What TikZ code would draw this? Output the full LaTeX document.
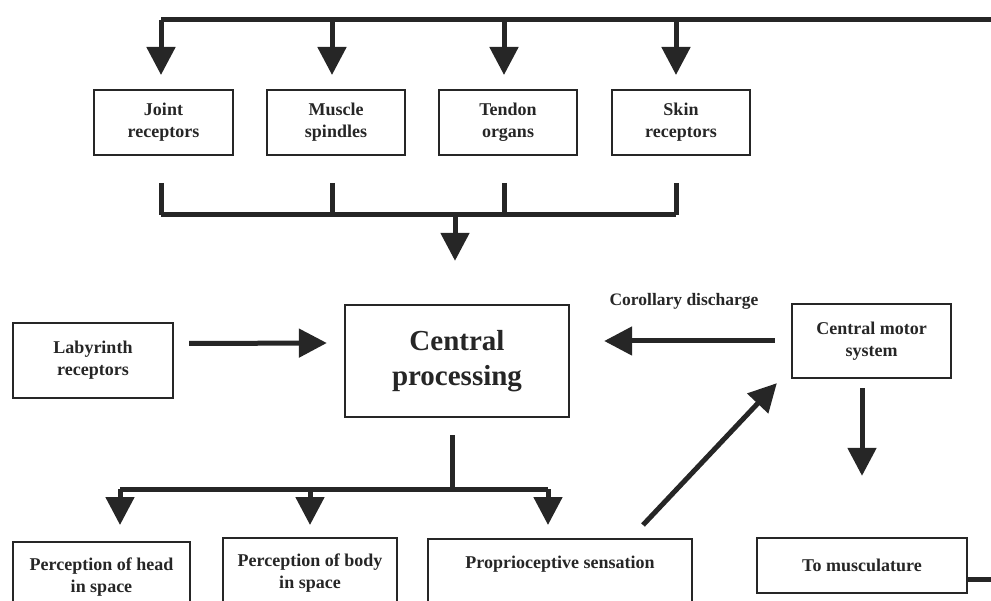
\documentclass[tikz,border=0pt]{standalone}
\usepackage{fontspec}
\setmainfont{Liberation Serif}
\usetikzlibrary{arrows.meta}
\begin{document}
\begin{tikzpicture}[x=1pt,y=-1pt,
  box/.style={draw=black!85,line width=2.3pt,align=center,inner sep=2pt,
    font=\bfseries\fontsize{18}{22}\selectfont,text=black!85},
  conn/.style={line width=5pt,draw=black!85},
  arr/.style={conn,-{Triangle[width=28pt,length=28pt]}},
  lbl/.style={font=\bfseries\fontsize{17.5}{20}\selectfont,text=black!85}]
\useasboundingbox (0,0) rectangle (991,601);
\clip (0,0) rectangle (991,601);
% top row
\node[box,minimum width=139pt,minimum height=65pt] (joint) at (163.5,122.5) {Joint\\receptors};
\node[box,minimum width=138pt,minimum height=65pt] (muscle) at (336,122.5) {Muscle\\spindles};
\node[box,minimum width=138pt,minimum height=65pt] (tendon) at (508,122.5) {Tendon\\organs};
\node[box,minimum width=138pt,minimum height=65pt] (skin) at (681,122.5) {Skin\\receptors};
% top feedback line
\coordinate (topR) at (1000,20);
\coordinate (topL) at (161,20);
\draw[conn] (topR) -- (topL);
\foreach \n/\x in {joint/161,muscle/332,tendon/504,skin/676}{
  \draw[arr] (\x,20) -- (\x,75);
}
% bracket
\coordinate (brL) at (161,215);
\coordinate (brR) at (676,215);
\foreach \x in {161,332,504,676}{
  \draw[conn] (\x,183) -- (\x,215);
}
\draw[conn] (brL) -- (brR);
% central
\node[box,minimum width=224pt,minimum height=112pt,font=\bfseries\fontsize{29}{35}\selectfont] (central) at (457,361) {Central\\processing};
\draw[arr] (455,215) -- ([xshift=-2pt,yshift=43pt]central.north);
% labyrinth
\node[box,minimum width=160pt,minimum height=75pt] (lab) at (93,360.5) {Labyrinth\\receptors};
\draw[arr] ([xshift=15pt,yshift=17pt]lab.east) -- ([xshift=-17pt,yshift=18pt]central.west);
% central motor
\node[box,minimum width=159pt,minimum height=74pt] (cm) at (871.5,341) {Central motor\\system};
\draw[arr] ([xshift=-16pt]cm.west) -- ([xshift=34pt,yshift=20pt]central.east);
\node[lbl] (cd) at (684,301) {Corollary discharge};
% bottom row
\node[box,minimum width=177pt,minimum height=70pt] (head) at (101.5,577) {Perception of head\\in space};
\node[box,minimum width=174pt,minimum height=70pt] (body) at (310,573) {Perception of body\\in space};
\node[box,minimum width=264pt,anchor=north,inner ysep=0pt,text height=29pt,text depth=55pt] (prop) at (560,538) {Proprioceptive sensation};
\node[box,minimum width=210pt,minimum height=55pt] (musc) at (862,565.5) {To musculature};
% distribution from central
\coordinate (dv) at (452,489);
\draw[conn] ([xshift=-5pt,yshift=-17pt]central.south) -- (dv);
\coordinate (dL) at (120,489);
\coordinate (dR) at (548,489);
\draw[conn] (dL) -- (dR);
\draw[arr] (dL) -- (120,525);
\draw[arr] (310,489) -- (310,525);
\draw[arr] (dR) -- (548,525);
% diagonal
\draw[arr] ([xshift=83pt,yshift=13pt]prop.north) -- ([xshift=-14pt,yshift=-4pt]cm.south west);
% down to musculature
\draw[arr] ([xshift=-9.5pt,yshift=-9pt]cm.south) -- ([xshift=0pt,yshift=61pt]musc.north);
% right exit line
\coordinate (outR) at (1000,579);
\draw[conn] ([yshift=-13.5pt]musc.east) -- (outR);
\end{tikzpicture}
\end{document}
